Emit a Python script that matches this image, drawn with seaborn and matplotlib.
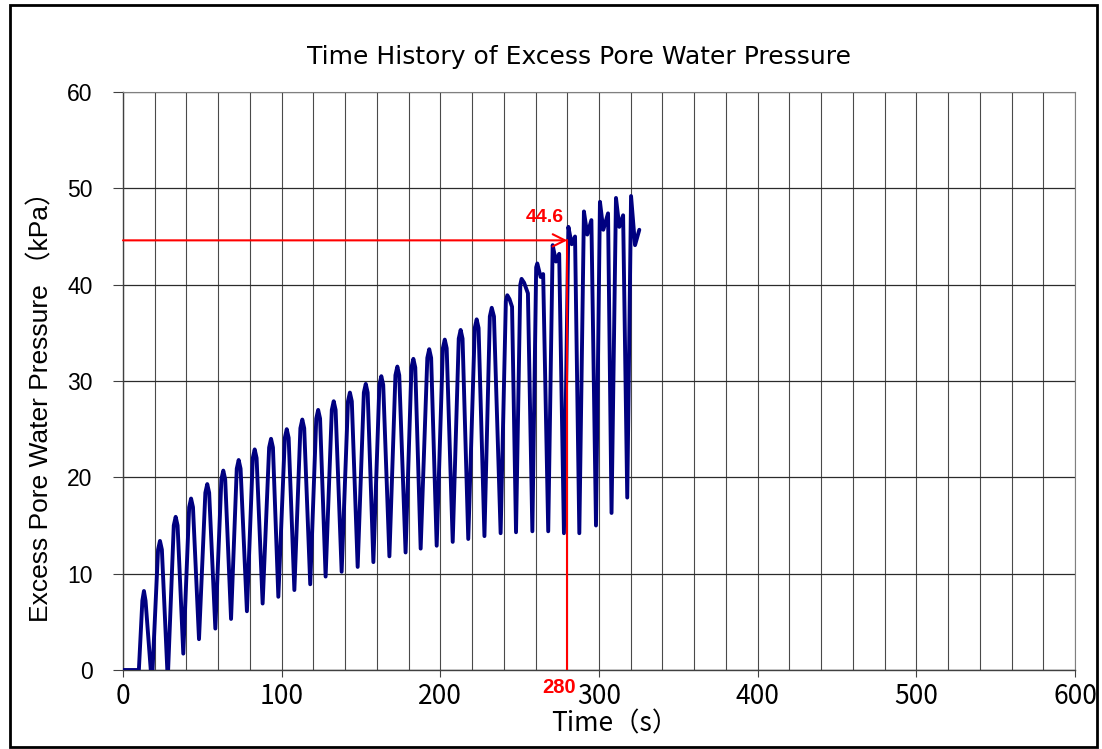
import matplotlib
matplotlib.use("Agg")
import matplotlib.pyplot as plt
import matplotlib.patches as mpatches
from matplotlib.ticker import MultipleLocator
import seaborn as sns
import pandas as pd

# ---- data ----
time_s = [
    0.0, 10.0,
    12.2, 13.2, 14.2, 18.2,
    22.1, 23.3, 24.5, 28.2,
    32.0, 33.2, 34.4, 38.0,
    41.7, 42.9, 44.1, 47.9,
    51.9, 53.1, 54.3, 58.2,
    62.0, 63.2, 64.4, 68.1,
    71.7, 72.9, 74.1, 78.1,
    81.8, 83.0, 84.2, 88.0,
    92.1, 93.3, 94.5, 97.9,
    102.0, 103.2, 104.4, 108.0,
    111.8, 113.0, 114.2, 118.0,
    121.8, 123.0, 124.2, 127.7,
    131.6, 132.8, 134.0, 137.8,
    141.8, 143.0, 144.2, 147.9,
    151.8, 153.0, 154.2, 157.8,
    161.6, 162.8, 164.0, 167.9,
    171.7, 172.9, 174.1, 178.1,
    181.8, 183.0, 184.2, 187.6,
    191.8, 193.0, 194.2, 197.7,
    201.6, 202.8, 204.0, 207.8,
    211.6, 212.8, 214.0, 217.6,
    221.7, 222.9, 224.1, 227.8,
    231.2, 232.4, 233.8, 238.0,
    241.3, 242.2, 243.6, 245.2, 247.7,
    250.4, 251.2, 252.8, 255.2, 258.0,
    260.4, 261.1, 263.2, 264.8, 268.0,
    270.8, 272.9, 274.9, 277.9,
    280.7, 282.8, 284.9, 287.6,
    290.5, 292.6, 295.2, 298.1,
    300.6, 302.7, 305.7, 307.9,
    310.7, 312.8, 315.2, 317.8,
    320.2, 322.7, 325.4,
]
pressure_kpa = [
    0.0, 0.0,
    7.2, 8.2, 7.2, -1.5,
    12.5, 13.4, 12.5, -1.0,
    15.0, 15.9, 15.0, 1.7,
    16.9, 17.8, 16.9, 3.2,
    18.4, 19.3, 18.4, 4.3,
    19.8, 20.7, 19.8, 5.3,
    20.9, 21.8, 20.9, 6.1,
    22.0, 22.9, 22.0, 6.9,
    23.1, 24.0, 23.1, 7.6,
    24.1, 25.0, 24.1, 8.3,
    25.1, 26.0, 25.1, 8.9,
    26.1, 27.0, 26.1, 9.7,
    27.0, 27.9, 27.0, 10.2,
    27.9, 28.8, 27.9, 10.7,
    28.8, 29.7, 28.8, 11.2,
    29.6, 30.5, 29.6, 11.8,
    30.6, 31.5, 30.6, 12.2,
    31.4, 32.3, 31.4, 12.6,
    32.4, 33.3, 32.4, 12.9,
    33.4, 34.3, 33.4, 13.3,
    34.4, 35.3, 34.4, 13.6,
    35.5, 36.4, 35.5, 13.9,
    36.7, 37.6, 36.7, 14.2,
    38.3, 38.9, 38.5, 37.7, 14.3,
    40.0, 40.6, 40.2, 39.1, 14.4,
    41.8, 42.2, 40.8, 41.1, 14.4,
    44.1, 42.4, 43.2, 14.2,
    46.0, 44.2, 45.0, 14.2,
    47.6, 45.2, 46.7, 15.0,
    48.6, 45.7, 47.4, 16.3,
    49.0, 46.0, 47.2, 17.9,
    49.2, 44.1, 45.7,
]
marker_time = 280
marker_value = 44.6
x_ticks = [0, 100, 200, 300, 400, 500, 600]
y_ticks = [0, 10, 20, 30, 40, 50, 60]

title_text = "Time History of Excess Pore Water Pressure"
x_label = "Time（s）"
y_label = "Excess Pore Water Pressure （kPa）"

df = pd.DataFrame({"time": time_s, "pressure": pressure_kpa})

sns.set_style("white")
plt.rcParams.update({"text.color": "black", "axes.labelcolor": "black",
                     "xtick.color": "black", "ytick.color": "black"})
gothic = ["Noto Sans CJK JP", "DejaVu Sans"]
arial = ["Liberation Sans", "Noto Sans CJK JP", "DejaVu Sans"]

W, H = 1102, 749
L, R, T, B = 123, 1075, 92, 670
fig = plt.figure(figsize=(W / 100, H / 100), dpi=100)
ax = fig.add_axes([L / W, 1 - B / H, (R - L) / W, (B - T) / H])

sns.lineplot(data=df, x="time", y="pressure", ax=ax, color="#000080",
             linewidth=2.8, sort=False, estimator=None, zorder=3)
for ln in ax.get_lines():
    ln.set_solid_joinstyle("round")
    ln.set_solid_capstyle("round")

ax.set_xlim(0, 600)
ax.set_ylim(0, 60)
ax.set_xticks(x_ticks)
ax.set_yticks(y_ticks)
ax.xaxis.set_minor_locator(MultipleLocator(20))
ax.grid(True, which="major", axis="y", color="#2b2b2b", linewidth=0.9)
ax.grid(True, which="both", axis="x", color="#4a4a4a", linewidth=0.8)
ax.set_axisbelow(True)

for s in ["top", "right"]:
    ax.spines[s].set_color("#808080")
    ax.spines[s].set_linewidth(0.8)
for s in ["left", "bottom"]:
    ax.spines[s].set_color("#404040")
    ax.spines[s].set_linewidth(1.0)

ax.tick_params(axis="y", which="major", direction="out", length=7, width=0.8,
               color="#404040", labelcolor="black", pad=15, left=True)
ax.tick_params(axis="x", which="major", direction="out", length=5, width=0.8,
               color="#404040", labelcolor="black", pad=4, bottom=True)
ax.tick_params(axis="x", which="minor", length=0)
for lab in ax.get_yticklabels():
    lab.set_fontfamily(arial)
    lab.set_fontsize(16.5)
for lab in ax.get_xticklabels():
    lab.set_fontfamily(gothic)
    lab.set_fontsize(19)

ax.set_xlabel(x_label, fontsize=19, family=gothic, color="black")
ax.xaxis.set_label_coords((615 - L) / (R - L), -(710 - B) / (B - T))
ax.set_ylabel(y_label, fontsize=19, family=arial, color="black")
ax.yaxis.set_label_coords(-(L - 53) / (R - L), (B - 400) / (B - T))
ax.set_title(title_text, fontsize=18, family=["DejaVu Sans"], color="black",
             x=(579 - L) / (R - L), pad=20)

# red annotation
ax.annotate("", xy=(marker_time, marker_value), xytext=(0, marker_value),
            arrowprops=dict(arrowstyle="->", color="red", lw=1.5,
                            mutation_scale=22, shrinkA=0, shrinkB=0),
            zorder=5, annotation_clip=False)
ax.plot([marker_time, marker_time], [marker_value, 0], color="red", lw=1.5,
        zorder=5)
ax.text(marker_time - 14, marker_value + 1.5, f"{marker_value}", color="red",
        fontsize=14, fontweight="bold", ha="center", va="bottom",
        family=arial, zorder=6)
ax.text(marker_time - 5, -0.8, f"{marker_time}", color="red", fontsize=14.5,
        fontweight="bold", ha="center", va="top", family=arial, zorder=6,
        clip_on=False)

# chart border
fig.patches.append(mpatches.Rectangle((10 / W, 2 / H), (1097 - 10) / W,
                                      (744 - 2) / H, transform=fig.transFigure,
                                      fill=False, edgecolor="black", lw=2))

fig.savefig("out.png", dpi=100)
